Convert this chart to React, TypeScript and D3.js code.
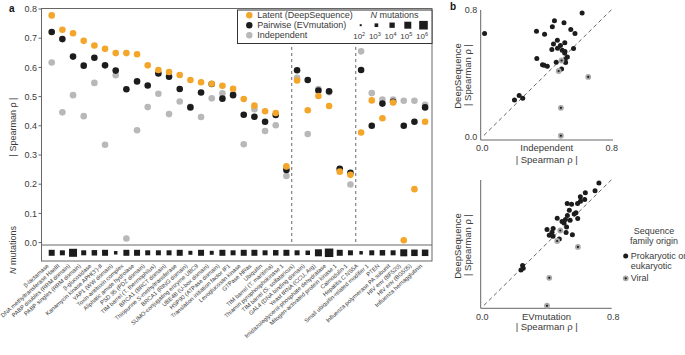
import React, { useEffect } from 'react';
import * as d3 from 'd3';

const categories = [
  'β-lactamase',
  'DNA methyltransferase HaeIII',
  'PABP doubles (RRM domain)',
  'PABP singles (RRM domain)',
  'β-glucosidase',
  "Kanamycin kinase APH(3')-II",
  'YAP1 (WW domain)',
  'Toxin-antitoxin complex',
  'Aliphatic amide hydrolase',
  'PSD 95 (PDZ domain)',
  'TIM barrel (T. thermophilus)',
  'BRCA1 (BRCT domain)',
  'Thiopurine S-methyltransferase',
  'BRCA1 (RING domain)',
  'SUMO-conjugating enzyme UBC9',
  'UBE4B (U-box domain)',
  'HSP90 (ATPase domain)',
  'Translation initiation factor IF1',
  'Levoglucosan kinase',
  'GTPase HRas',
  'Ubiquitin',
  'TIM barrel (T. maritima)',
  'Thiamin pyrophosphokinase 1',
  'TIM barrel (S. solfataricus)',
  'GAL4 (DNA binding domain)',
  'Yeast tRNA (CCU, Arg)',
  'Imidazoleglycerol-phosphate dehydratase',
  'Mitogen-activated protein kinase 1',
  'Calmodulin-1',
  'Hepatitis C NS5A',
  'Small ubiquitin-related modifier 1',
  'PTEN',
  'Influenza polymerase PA subunit',
  'HIV env (BF520)',
  'HIV env (BG505)',
  'Influenza hemagglutinin',
];

const latent = [0.778, 0.729, 0.717, 0.691, 0.675, 0.664, 0.649, 0.649, 0.645, 0.607, 0.591, 0.584, 0.574, 0.557, 0.549, 0.544, 0.537, 0.527, 0.492, 0.469, 0.45, 0.444, 0.261, 0.555, 0.453, 0.502, 0.468, 0.243, 0.232, 0.377, 0.487, 0.426, 0.48, 0.008, 0.183, 0.414];
const pairwise = [0.721, 0.697, 0.637, 0.606, 0.633, 0.607, 0.589, 0.525, 0.552, 0.538, 0.579, 0.568, 0.526, 0.463, 0.514, 0.543, 0.493, 0.505, 0.438, 0.431, 0.414, 0.437, 0.249, 0.59, 0.557, 0.521, 0.518, 0.253, 0.239, 0.591, 0.4, 0.476, 0.482, 0.4, 0.414, 0.463];
const independent = [0.617, 0.446, 0.505, 0.433, 0.547, 0.335, 0.573, 0.014, 0.385, 0.464, 0.51, 0.44, 0.483, 0.465, 0.43, 0.494, 0.511, 0.509, 0.337, 0.457, 0.382, 0.402, 0.228, 0.564, 0.372, 0.526, 0.515, 0.25, 0.199, 0.655, 0.512, 0.49, 0.49, 0.486, 0.486, 0.472];
const nMutations = [26000, 6600, 440000, 6600, 13000, 26000, 800, 26000, 26000, 6600, 6600, 6600, 26000, 1600, 26000, 1600, 26000, 6600, 26000, 26000, 6600, 13000, 26000, 6600, 3300, 107000, 870000, 26000, 6600, 800, 6600, 13000, 6600, 107000, 53000, 53000];
const viralFamilies = ['Hepatitis C NS5A', 'Influenza polymerase PA subunit', 'HIV env (BF520)', 'HIV env (BG505)', 'Influenza hemagglutinin'];
const groupBreaks = [22.5, 28.5];

const yTicks = [0, 0.1, 0.2, 0.3, 0.4, 0.5, 0.6, 0.7, 0.8];
const scatterTicks = [0, 0.8];
const legendExponents = [2, 3, 4, 5, 6];
const seriesNames = ['Latent (DeepSequence)', 'Pairwise (EVmutation)', 'Independent'];
const originNames = ['Prokaryotic or', 'eukaryotic', 'Viral'];

const FONT = '"Liberation Sans", Arial, Helvetica, sans-serif';
const ORANGE = '#F3A62A';
const BLACK = '#1c1c1c';
const GRAY = '#b8b8b8';
const TXT = '#3a3a3a';
const AX = '#666';

export default function App() {
  useEffect(() => {
    document.body.style.margin = '0';
  }, []);

  const x = d3.scalePoint<string>().domain(categories).range([51.7, 425.1]);
  const xi = d3.scaleLinear().domain([0, categories.length - 1]).range([51.7, 425.1]);
  const y = d3.scaleLinear().domain([0, 0.8]).range([242.6, 9]);
  const size = d3.scaleLinear().domain([2, 6]).range([2, 8.6]);

  const sx = d3.scaleLinear().domain([0, 0.8]).range([482.3, 611.7]);
  const syTop = d3.scaleLinear().domain([0, 0.8]).range([137, 9.5]);
  const syBot = d3.scaleLinear().domain([0, 0.8]).range([307, 179.5]);

  const series = [
    { vals: independent, color: GRAY },
    { vals: pairwise, color: BLACK },
    { vals: latent, color: ORANGE },
  ];
  const legendColors = [ORANGE, BLACK, GRAY];

  const boxL = 41.5, boxR = 432, boxT = 8.5, stripT = 245, boxB = 261;
  const legX0 = 237.5, legY0 = 10, legX1 = 432, legY1 = 43.5;

  const scatter = (sy: d3.ScaleLinear<number, number>, xs: number[], axisTop: number, axisBottom: number, axisRight: number) => (
    <g>
      <line x1={480.7} x2={480.7} y1={axisTop} y2={axisBottom} stroke={AX} strokeWidth={1} />
      <line x1={480.7} x2={axisRight} y1={axisBottom} y2={axisBottom} stroke={AX} strokeWidth={1} />
      <line x1={sx(0.01)} y1={sy(0.01)} x2={sx(0.8)} y2={sy(0.8)} stroke="#555" strokeWidth={0.9} strokeDasharray="4,3" />
      {categories.map((c, i) =>
        viralFamilies.includes(c) ? null : (
          <circle key={c} cx={sx(xs[i])} cy={sy(latent[i])} r={2.5} fill={BLACK} />
        )
      )}
      {categories.map((c, i) =>
        viralFamilies.includes(c) ? (
          <g key={c}>
            <circle cx={sx(xs[i])} cy={sy(latent[i])} r={2.9} fill="#a9a9a9" />
            <circle cx={sx(xs[i])} cy={sy(latent[i])} r={1.1} fill={BLACK} />
          </g>
        ) : null
      )}
    </g>
  );

  return (
    <svg width={685} height={355} style={{ position: 'absolute', left: 0, top: 0, fontFamily: FONT }}>
      <rect width={685} height={355} fill="#fff" />
      {/* Panel a */}
      <text x={9} y={12} fontSize={10} fontWeight="bold" fill="#111">a</text>
      <rect x={boxL} y={boxT} width={boxR - boxL} height={boxB - boxT} fill="none" stroke={AX} strokeWidth={1} />
      <line x1={boxL} x2={boxR} y1={stripT} y2={stripT} stroke={AX} strokeWidth={1} />
      {yTicks.map((t) => (
        <g key={t}>
          <line x1={boxL - 3} x2={boxL} y1={y(t)} y2={y(t)} stroke={AX} strokeWidth={1} />
          <text x={37} y={y(t)} dy="0.35em" textAnchor="end" fontSize={9} fill={TXT}>{t.toFixed(1)}</text>
        </g>
      ))}
      <text transform={`translate(16,127) rotate(-90)`} textAnchor="middle" fontSize={9} fill={TXT}>| Spearman ρ |</text>
      <text transform={`translate(16,250) rotate(-90)`} textAnchor="middle" fontSize={9} fill={TXT}>
        <tspan fontStyle="italic">N</tspan> mutations
      </text>
      {groupBreaks.map((b) => (
        <line key={b} x1={xi(b)} x2={xi(b)} y1={47} y2={stripT} stroke="#555" strokeWidth={0.9} strokeDasharray="3,3" />
      ))}
      {series.map((s, si) => (
        <g key={si}>
          {categories.map((c, i) => (
            <circle key={c} cx={x(c)} cy={y(s.vals[i])} r={3.3} fill={s.color} />
          ))}
        </g>
      ))}
      {categories.map((c, i) => {
        const w = size(Math.log10(nMutations[i]));
        return <rect key={c} x={(x(c) as number) - w / 2} y={252.8 - w / 2} width={w} height={w} fill={BLACK} />;
      })}
      {categories.map((c) => (
        <text key={c} transform={`translate(${(x(c) as number) - 2.5},266.5) rotate(-42)`} textAnchor="end" fontSize={5.8} fill={TXT}>{c}</text>
      ))}
      {/* legend */}
      <rect x={legX0} y={legY0} width={legX1 - legX0} height={legY1 - legY0} fill="#fff" stroke="#333" strokeWidth={1} />
      {seriesNames.map((n, i) => (
        <g key={n}>
          <circle cx={249.3} cy={15.2 + i * 10} r={3.2} fill={legendColors[i]} />
          <text x={257.3} y={15.2 + i * 10} dy="0.35em" fontSize={9} fill={TXT}>{n}</text>
        </g>
      ))}
      <text x={394.5} y={15} dy="0.35em" textAnchor="middle" fontSize={9} fill={TXT}>
        <tspan fontStyle="italic">N</tspan> mutations
      </text>
      {legendExponents.map((e, i) => {
        const cx = 360.7 + i * 15.7;
        const w = size(e);
        return (
          <g key={e}>
            <rect x={cx - w / 2} y={25.2 - w / 2} width={w} height={w} fill={BLACK} />
            <text x={cx - 1.5} y={39} textAnchor="middle" fontSize={8} fill={TXT}>
              10<tspan dy={-3} fontSize={5.5}>{e}</tspan>
            </text>
          </g>
        );
      })}

      {/* Panel b */}
      <text x={450} y={10} fontSize={10} fontWeight="bold" fill="#111">b</text>
      {scatter(syTop, independent, 10, 140, 613)}
      {scatterTicks.map((t) => (
        <g key={'t' + t}>
          <text x={477.3} y={syTop(t)} dy="0.35em" textAnchor="end" fontSize={9} fill={TXT}>{t.toFixed(1)}</text>
          <text x={sx(t)} y={148} dy="0.35em" textAnchor="middle" fontSize={9} fill={TXT}>{t.toFixed(1)}</text>
          <text x={sx(t) + (t > 0 ? 1.5 : 0)} y={316.7} dy="0.35em" textAnchor="middle" fontSize={9} fill={TXT}>{t.toFixed(1)}</text>
        </g>
      ))}
      <text x={546.7} y={148} dy="0.35em" textAnchor="middle" fontSize={9.5} fill={TXT}>Independent</text>
      <text x={546.7} y={159.5} dy="0.35em" textAnchor="middle" fontSize={9.5} fill={TXT}>| Spearman ρ |</text>
      <text transform="translate(461,76) rotate(-90)" textAnchor="middle" fontSize={9.5} fill={TXT}>DeepSequence</text>
      <text transform="translate(470.5,75) rotate(-90)" textAnchor="middle" fontSize={9.5} fill={TXT}>| Spearman ρ |</text>

      {scatter(syBot, pairwise, 180, 308.3, 611.7)}
      <text x={546.5} y={316.7} dy="0.35em" textAnchor="middle" fontSize={9.5} fill={TXT}>EVmutation</text>
      <text x={546.7} y={327} dy="0.35em" textAnchor="middle" fontSize={9.5} fill={TXT}>| Spearman ρ |</text>
      <text transform="translate(461,246) rotate(-90)" textAnchor="middle" fontSize={9.5} fill={TXT}>DeepSequence</text>
      <text transform="translate(470.5,245) rotate(-90)" textAnchor="middle" fontSize={9.5} fill={TXT}>| Spearman ρ |</text>

      <text x={654} y={231} dy="0.35em" textAnchor="middle" fontSize={9} fill={TXT}>Sequence</text>
      <text x={654} y={240.7} dy="0.35em" textAnchor="middle" fontSize={9} fill={TXT}>family origin</text>
      <circle cx={625.7} cy={256} r={2.5} fill={BLACK} />
      <text x={630.7} y={256} dy="0.35em" fontSize={9} fill={TXT}>{originNames[0]}</text>
      <text x={630.7} y={266} dy="0.35em" fontSize={9} fill={TXT}>{originNames[1]}</text>
      <circle cx={625.7} cy={278.3} r={2.9} fill="#a9a9a9" />
      <circle cx={625.7} cy={278.3} r={1.1} fill={BLACK} />
      <text x={630.7} y={278.3} dy="0.35em" fontSize={9} fill={TXT}>{originNames[2]}</text>
    </svg>
  );
}
